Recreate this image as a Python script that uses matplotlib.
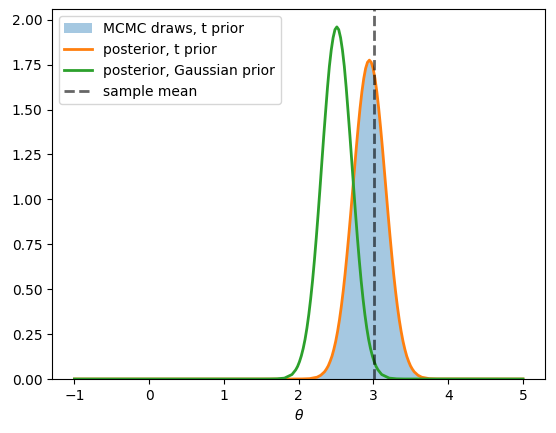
import numpy as np
from matplotlib import pyplot as plt

# Posterior under the Gaussian prior
theta_gauss = np.concatenate([[-1.0, 1.5, 1.61, 1.71, 1.81, 1.91],
                              np.arange(1.96, 3.0601, 0.025),
                              [3.11, 3.21, 3.31, 3.41, 5.0]])
dens_gauss = [0, 0, 0.0002, 0.001, 0.005, 0.025,
              0.051, 0.070, 0.096, 0.129, 0.170, 0.221, 0.284, 0.359, 0.447, 0.547,
              0.661, 0.786, 0.921, 1.063, 1.21, 1.354, 1.49, 1.623, 1.74, 1.831,
              1.90, 1.945, 1.96, 1.945, 1.90, 1.831, 1.74, 1.623, 1.49, 1.354,
              1.21, 1.063, 0.921, 0.786, 0.661, 0.547, 0.447, 0.359, 0.284, 0.221,
              0.170, 0.129, 0.096, 0.070, 0.051,
              0.025, 0.005, 0.001, 0.0002, 0]

# Posterior under the t prior
theta_t = np.concatenate([[-1.0, 1.9, 2.045, 2.145, 2.245, 2.295],
                          np.arange(2.345, 3.5451, 0.025),
                          [3.595, 3.645, 3.745, 3.845, 5.0]])
dens_t = [0, 0, 0.0005, 0.002, 0.010, 0.021,
          0.040, 0.055, 0.073, 0.098, 0.127, 0.165, 0.210, 0.265, 0.329, 0.404,
          0.489, 0.584, 0.689, 0.801, 0.919, 1.042, 1.164, 1.286, 1.400, 1.506,
          1.598, 1.673, 1.729, 1.763, 1.775, 1.763, 1.729, 1.673, 1.598, 1.506,
          1.400, 1.286, 1.164, 1.042, 0.919, 0.801, 0.689, 0.584, 0.489, 0.404,
          0.329, 0.265, 0.210, 0.165, 0.127, 0.098, 0.073, 0.055, 0.040,
          0.021, 0.010, 0.002, 0.0005, 0]

# MCMC histogram (density per bin)
bin_edges = np.linspace(2.195, 3.695, 61)
hist_heights = [0.0058, 0.0085, 0.012, 0.017, 0.025, 0.034, 0.047, 0.064, 0.085, 0.112,
                0.146, 0.187, 0.237, 0.296, 0.365, 0.445, 0.535, 0.635, 0.744, 0.859,
                0.980, 1.104, 1.226, 1.344, 1.455, 1.554, 1.638, 1.703, 1.749, 1.772,
                1.772, 1.749, 1.703, 1.638, 1.554, 1.455, 1.344, 1.226, 1.104, 0.980,
                0.859, 0.744, 0.635, 0.535, 0.445, 0.365, 0.296, 0.237, 0.187, 0.146,
                0.112, 0.085, 0.064, 0.047, 0.034, 0.025, 0.017, 0.012, 0.0085, 0.0058]

sample_mean = 3.013

fig, ax = plt.subplots(figsize=(5.56, 4.33), dpi=100)
fig.subplots_adjust(left=0.0935, right=0.981, bottom=0.1247, top=0.9785)

ax.hist(bin_edges[:-1], bins=bin_edges, weights=hist_heights, histtype="stepfilled",
        alpha=0.4, color="tab:blue", label="MCMC draws, t prior")
ax.plot(theta_t, dens_t, color="tab:orange", lw=2, label="posterior, t prior")
ax.plot(theta_gauss, dens_gauss, color="tab:green", lw=2, label="posterior, Gaussian prior")
ax.axvline(sample_mean, color="k", alpha=0.6, lw=2, ls="--", label="sample mean")

ax.set_xlabel(r"$\theta$")
ax.legend(loc="upper left")

plt.savefig("out.png")
